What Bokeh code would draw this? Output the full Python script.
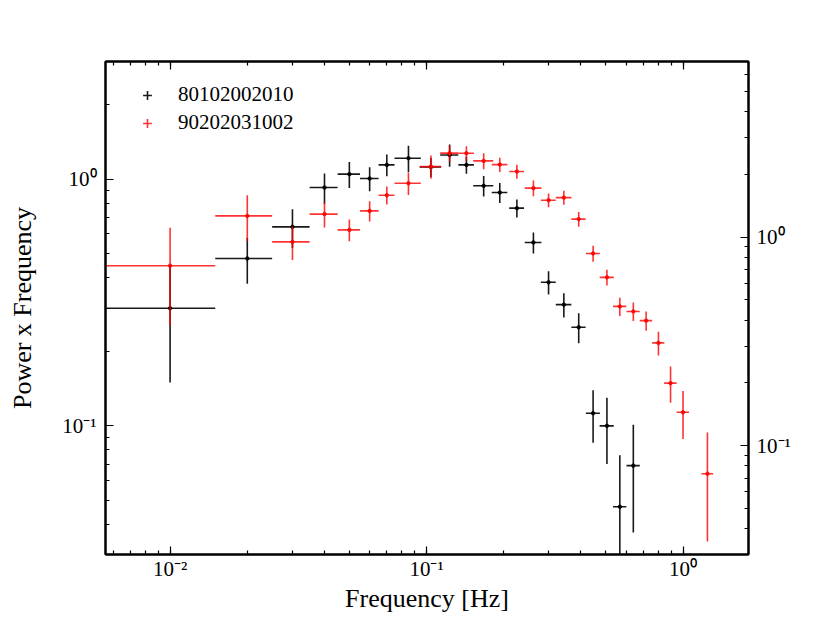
import numpy as np
from bokeh.plotting import figure
from bokeh.models import (Range1d, LogScale, LogAxis, FixedTicker, CustomJSTickFormatter,
                          ColumnDataSource, Legend, LegendItem)
from bokeh.embed import file_html
from bokeh.resources import INLINE

# ---------------- data ----------------
freq = [0.01, 0.02, 0.03, 0.04, 0.05, 0.06, 0.07, 0.085, 0.104, 0.123, 0.143,
        0.167, 0.193, 0.225, 0.261, 0.299, 0.343, 0.392, 0.446, 0.505, 0.567,
        0.64, 0.718, 0.802, 0.894, 1.0, 1.245]
freq_err = [0.005, 0.005, 0.005, 0.005, 0.005, 0.005, 0.005, 0.01, 0.01, 0.01, 0.01,
            0.015, 0.0135, 0.015, 0.0195, 0.02, 0.024, 0.025, 0.028, 0.032, 0.034,
            0.038, 0.04, 0.044, 0.05, 0.055, 0.065]

obs_a = "80102002010"
power_a = [0.30, 0.477, 0.641, 0.925, 1.048, 1.006, 1.143, 1.216, 1.12, 1.254, 1.143,
           0.94, 0.883, 0.763, 0.554, 0.382, 0.310, 0.251, 0.1125, 0.100, 0.047, 0.069]
power_a_err = [0.15, 0.10, 0.115, 0.13, 0.127, 0.113, 0.115, 0.15, 0.10, 0.13, 0.09,
               0.09, 0.082, 0.064, 0.054, 0.041, 0.035, 0.035, 0.027, 0.03, 0.029, 0.032]

obs_b = "90202031002"
power_b = [0.446, 0.710, 0.557, 0.722, 0.623, 0.744, 0.861, 0.963, 1.125, 1.275, 1.274,
           1.186, 1.146, 1.074, 0.920, 0.822, 0.842, 0.689, 0.500, 0.400, 0.305, 0.291,
           0.267, 0.217, 0.149, 0.1135, 0.064]
power_b_err = [0.19, 0.15, 0.087, 0.085, 0.063, 0.07, 0.072, 0.10, 0.122, 0.095, 0.085,
               0.088, 0.077, 0.07, 0.067, 0.053, 0.055, 0.047, 0.037, 0.029, 0.026, 0.025,
               0.024, 0.024, 0.025, 0.025, 0.03]

x_label = "Frequency [Hz]"
y_label = "Power x Frequency"

FONT = "Liberation Serif"

# ---------------- figure ----------------
p = figure(width=830, height=617, x_axis_type="log", y_axis_type="log",
           x_range=Range1d(0.0056, 1.80), y_range=Range1d(0.0301, 3.0),
           output_backend="svg", toolbar_location=None,
           min_border_left=105, min_border_right=82, min_border_top=61, min_border_bottom=63)
p.extra_y_ranges = {"right": Range1d(0.0301, 6.94)}
p.extra_y_scales = {"right": LogScale()}

p.xgrid.visible = False
p.ygrid.visible = False
p.outline_line_color = "black"
p.outline_line_width = 2
p.background_fill_color = "white"
p.border_fill_color = "white"

sup_code = """
const sup = {"-": "\u207b", "0": "\u2070", "1": "\u00b9", "2": "\u00b2", "3": "\u00b3"};
const e = Math.round(Math.log10(tick));
return "10" + String(e).split("").map(c => sup[c]).join("");
"""
blank_code = 'return "";'

majors = [0.01, 0.1, 1.0]
minors = [m * 10.0 ** e for e in range(-3, 1) for m in range(1, 10)]


def style_axis(ax, labels=True):
    ax.ticker = FixedTicker(ticks=majors, minor_ticks=minors)
    ax.formatter = CustomJSTickFormatter(code=sup_code if labels else blank_code)
    ax.axis_line_width = 2
    ax.axis_line_color = "black"
    ax.major_tick_in = 8
    ax.major_tick_out = 0
    ax.minor_tick_in = 4
    ax.minor_tick_out = 0
    ax.major_tick_line_width = 1.2
    ax.minor_tick_line_width = 1.2
    ax.major_label_text_font = FONT
    ax.major_label_text_font_size = "21px"
    ax.major_label_text_color = "black"
    ax.major_label_standoff = 6
    ax.axis_label_text_font = FONT
    ax.axis_label_text_font_size = "26px"
    ax.axis_label_text_font_style = "normal"
    ax.axis_label_text_color = "black"


style_axis(p.xaxis[0])
style_axis(p.yaxis[0])
p.xaxis[0].axis_label = x_label
p.xaxis[0].axis_label_standoff = 0
p.xaxis[0].major_label_standoff = 2
p.yaxis[0].axis_label = y_label
p.yaxis[0].axis_label_standoff = 22
p.yaxis[0].major_label_standoff = 9

right_axis = LogAxis(y_range_name="right")
style_axis(right_axis)
right_axis.major_label_standoff = 8
p.add_layout(right_axis, "right")

top_axis = LogAxis()
style_axis(top_axis, labels=False)
p.add_layout(top_axis, "above")


# ---------------- error bars ----------------
def add_series(f, fe, pw, pe, color, alpha):
    f = np.array(f)
    fe = np.array(fe)
    pw = np.array(pw)
    pe = np.array(pe)
    src = ColumnDataSource(dict(x=f, y=pw, x0=f - fe, x1=f + fe,
                                y0=pw - pe, y1=pw + pe))
    p.segment("x0", "y", "x1", "y", source=src, line_color=color,
              line_width=1.6, line_alpha=alpha)
    p.segment("x", "y0", "x", "y1", source=src, line_color=color,
              line_width=1.6, line_alpha=alpha)
    p.scatter("x", "y", source=src, marker="circle", size=3.5,
              fill_color=color, line_color=color, alpha=alpha)
    # legend key only (NaN point: never drawn in the plot area)
    key = p.scatter(x=[np.nan], y=[np.nan], marker="cross", size=19, line_color=color,
                    line_width=1.6, line_alpha=alpha)
    return key


n_a = len(power_a)
key_a = add_series(freq[:n_a], freq_err[:n_a], power_a, power_a_err, "black", 0.9)
key_b = add_series(freq, freq_err, power_b, power_b_err, "#ff0000", 0.8)

legend = Legend(items=[LegendItem(label=obs_a, renderers=[key_a]),
                       LegendItem(label=obs_b, renderers=[key_b])],
                location="top_left", margin=10, padding=11, spacing=3,
                glyph_width=42, glyph_height=22, label_height=22, label_standoff=10,
                label_text_font=FONT, label_text_font_size="21px",
                label_text_color="black",
                background_fill_alpha=0, border_line_alpha=0)
p.add_layout(legend)

open("out.html", "w").write(file_html(p, INLINE))
